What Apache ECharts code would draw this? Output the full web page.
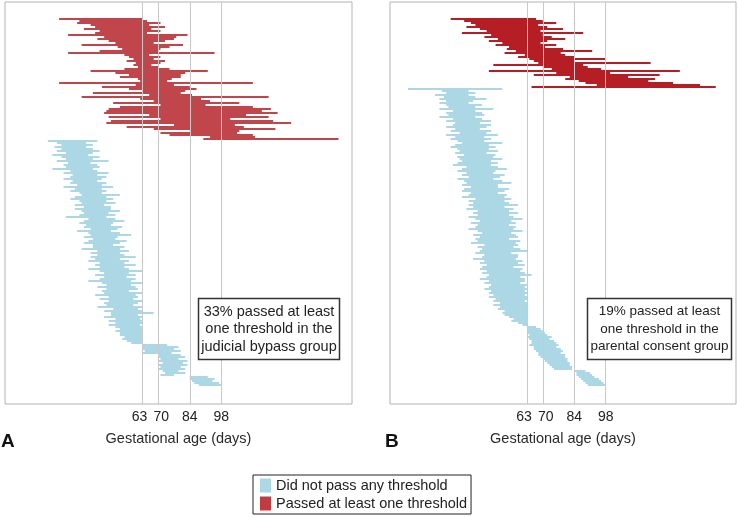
<!DOCTYPE html>
<html><head><meta charset="utf-8">
<script src="https://cdn.jsdelivr.net/npm/echarts@6/dist/echarts.min.js"></script>
<style>html,body{margin:0;padding:0;background:#fff}#c{width:738px;height:517px}</style>
</head><body><div id="c"></div>
<script>
// Threshold lines / tick labels (gestational age, days)
const thresholds = [63, 70, 84, 98];
const xTickLabels = ['63', '70', '84', '98'];
const nameBlue = 'Did not pass any threshold';
const nameRed = 'Passed at least one threshold';

// Panel A: judicial bypass group (one row per person, top to bottom)
const aRedStart = [26,35,34,40,42,37,44,42,30,46,43,48,51,36,52,54,44,30,55,57,59,56,60,59,61,55,40,51,57,53,61,62,26,60,45,57,63,41,66,36,62,68,50,71,53,48,47,46,66,48,71,49,47,77,56,68,84,71,75,93,90];
const aRedEnd   = [63,65,71,66,73,67,71,65,83,78,77,73,68,81,75,71,70,95,66,71,68,73,71,67,70,75,92,82,80,80,76,74,112,77,84,87,82,80,85,119,89,93,106,91,112,120,116,123,109,119,102,121,129,104,108,122,106,105,112,113,150];
const aBlueStart = [
21,25,27,24,27,25,29,23,27,29,
25,30,28,29,23,31,28,32,31,28,
32,31,34,28,33,31,35,36,33,31,
35,36,33,37,33,36,37,35,29,39,
37,35,38,37,40,34,39,40,37,41,
39,37,41,41,36,43,40,43,40,42,
39,44,42,44,39,44,46,42,46,44,
39,45,47,43,47,45,46,42,48,44,
48,46,47,43,50,46,49,49,46,51,
48,51,48,51,53,51,53,53,55,54,56,58,
63,63,63,64,63,
70,70,71,70,72,70,71,70,72,73,71,
84,84,85,86,88];
const aBlueEnd = [
43,38,41,38,41,44,41,39,44,41,
48,40,43,44,41,43,48,43,47,45,
43,47,45,50,45,47,45,53,47,50,
47,51,46,49,49,53,48,51,47,51,
55,50,49,54,52,49,53,58,52,51,
56,53,50,55,53,57,53,55,60,53,
57,55,60,55,57,63,57,60,56,60,
58,63,58,60,61,57,63,60,61,59,
63,61,59,63,61,63,68,61,63,62,
63,63,62,63,63,63,63,63,63,63,63,63,
74,79,77,80,76,
80,82,79,83,81,83,80,82,79,82,77,
92,95,94,97,98];

// Panel B: parental consent group
const bRedStart = [29,35,38,40,36,42,45,34,47,44,50,46,52,49,55,54,58,53,62,59,64,66,68,48,70,74,46,76,66,82,80,86,89,94,65];
const bRedEnd   = [67,70,76,68,72,79,69,88,70,74,80,72,69,76,71,79,92,78,80,84,98,84,118,88,90,96,131,100,122,108,120,117,128,140,147];
const bBlueStart = [
10,
25,27,22,26,24,27,24,27,28,24,
30,27,28,24,30,27,31,30,27,31,
29,33,27,31,29,32,34,31,29,32,
33,31,35,32,33,34,32,30,36,34,
32,36,34,37,32,35,36,34,38,35,
34,38,37,34,40,37,39,37,39,36,
41,39,41,37,40,42,38,41,40,37,
41,43,39,42,40,41,38,44,41,43,
42,40,44,43,39,44,42,45,43,42,
45,43,46,45,42,46,44,47,46,44,
47,46,48,46,49,48,51,48,51,50,
53,52,53,55,57,56,59,61,
63,63,63,63,64,63,64,65,65,64,66,66,67,68,68,69,70,71,72,73,74,75,
84,85,85,86,87,88,89,90];
const bBlueEnd = [
52,
37,40,37,40,45,39,37,43,40,48,
40,43,44,40,43,47,42,47,45,42,
47,45,50,44,47,44,52,46,49,46,
50,45,49,48,52,47,50,47,50,54,
49,48,53,51,48,52,56,50,50,55,
53,50,54,53,56,53,55,59,53,57,
55,59,55,57,61,56,58,55,58,57,
61,56,58,59,55,60,58,59,57,60,
63,56,59,59,58,61,59,62,57,61,
60,62,65,60,62,62,60,63,62,63,
62,63,62,63,63,62,63,63,63,63,
63,63,63,63,63,63,63,63,
67,69,70,71,72,74,73,75,76,77,76,78,79,78,80,80,81,81,82,82,83,83,
89,91,92,93,95,96,97,98];

const annotA = '33% passed at least\none threshold in the\njudicial bypass group';
const annotB = '19% passed at least\none threshold in the\nparental consent group';

const FONT = 'Liberation Sans, Arial, sans-serif';
const C_BLUE = '#acd8e5';
const C_RED_A = '#c1464b';
const C_RED_B = '#b41e24';

function rows(starts, ends, offset) {
  return starts.map((s, i) => [s, ends[i], offset + i]);
}
function renderRow(params, api) {
  const p0 = api.coord([api.value(0), api.value(2)]);
  const p1 = api.coord([api.value(1), api.value(2) + 1]);
  return {
    type: 'rect',
    shape: { x: p0[0], y: p0[1], width: p1[0] - p0[0], height: p1[1] - p0[1] },
    style: api.style()
  };
}
const nA = aRedStart.length + aBlueStart.length;
const nB = bRedStart.length + bBlueStart.length;

function xAxisFor(gi) {
  return {
    gridIndex: gi, type: 'value', min: 2, max: 156,
    axisLine: { show: false }, axisTick: { show: false }, splitLine: { show: false },
    axisLabel: {
      customValues: thresholds, margin: 6, fontSize: 14, color: '#222', fontFamily: FONT,
      formatter: function (v) {
        const t = xTickLabels[thresholds.indexOf(v)];
        if (v === 63) return '{l|' + t + '}';
        if (v === 70) return '{r|' + t + '}';
        return '{n|' + t + '}';
      },
      rich: {
        l: { padding: [0, 6, 0, 0], fontSize: 14, color: '#222', fontFamily: FONT },
        r: { padding: [0, 0, 0, 6], fontSize: 14, color: '#222', fontFamily: FONT },
        n: { fontSize: 14, color: '#222', fontFamily: FONT }
      }
    },
    name: 'Gestational age (days)', nameLocation: 'middle', nameGap: 27,
    nameTextStyle: { fontSize: 14.5, color: '#2a2a2a', fontFamily: FONT }
  };
}
function yAxisFor(gi, n) {
  return { gridIndex: gi, type: 'value', inverse: true, min: -8, max: n + 9, show: false };
}
const vLines = {
  silent: true, symbol: ['none', 'none'], animation: false,
  label: { show: false },
  lineStyle: { color: '#c9c9c9', width: 1, type: 'solid' },
  emphasis: { disabled: true },
  data: thresholds.map(v => ({ xAxis: v }))
};
function series(name, gi, data, color, withLines) {
  const s = {
    type: 'custom', name: name, xAxisIndex: gi, yAxisIndex: gi,
    renderItem: renderRow, data: data,
    encode: { x: [0, 1], y: 2 },
    itemStyle: { color: color }, silent: true
  };
  if (withLines) s.markLine = vLines;
  return s;
}

const chart = echarts.init(document.getElementById('c'), null, { renderer: 'canvas' });
chart.setOption({
  animation: false,
  textStyle: { fontFamily: FONT },
  grid: [
    { left: 5, top: 2, width: 347, height: 402, show: true, borderColor: '#b3b3b3', borderWidth: 1, backgroundColor: 'transparent' },
    { left: 390, top: 2, width: 346, height: 402, show: true, borderColor: '#b3b3b3', borderWidth: 1, backgroundColor: 'transparent' }
  ],
  xAxis: [xAxisFor(0), xAxisFor(1)],
  yAxis: [yAxisFor(0, nA), yAxisFor(1, nB)],
  legend: {
    orient: 'vertical', left: 253, top: 475,
    padding: [3, 4, 3, 7], itemGap: 3, itemWidth: 11, itemHeight: 14,
    icon: 'rect', borderColor: '#222', borderWidth: 1, selectedMode: false,
    textStyle: { fontSize: 14.5, color: '#222', fontFamily: FONT },
    data: [
      { name: nameBlue, itemStyle: { color: C_BLUE } },
      { name: nameRed, itemStyle: { color: '#c23b40' } }
    ]
  },
  series: [
    series(nameRed, 0, rows(aRedStart, aRedEnd, 0), C_RED_A, false),
    series(nameBlue, 0, rows(aBlueStart, aBlueEnd, aRedStart.length), C_BLUE, true),
    series(nameRed, 1, rows(bRedStart, bRedEnd, 0), C_RED_B, false),
    series(nameBlue, 1, rows(bBlueStart, bBlueEnd, bRedStart.length), C_BLUE, true)
  ],
  graphic: [
    { type: 'text', left: 1, top: 432, style: { text: 'A', font: 'bold 19px ' + FONT, fill: '#111' } },
    { type: 'text', left: 385, top: 432, style: { text: 'B', font: 'bold 19px ' + FONT, fill: '#111' } },
    { type: 'rect', shape: { x: 198.5, y: 298.5, width: 141, height: 61 }, style: { fill: '#fff', stroke: '#333', lineWidth: 1.5 }, z: 10 },
    { type: 'text', x: 269, y: 329, z: 11, style: { text: annotA, font: '14.5px ' + FONT, fill: '#222', align: 'center', verticalAlign: 'middle', lineHeight: 17.5 } },
    { type: 'rect', shape: { x: 587.5, y: 298.5, width: 144, height: 61 }, style: { fill: '#fff', stroke: '#333', lineWidth: 1.5 }, z: 10 },
    { type: 'text', x: 659.5, y: 329, z: 11, style: { text: annotB, font: '13.5px ' + FONT, fill: '#222', align: 'center', verticalAlign: 'middle', lineHeight: 17.5 } }
  ]
});
</script></body></html>
